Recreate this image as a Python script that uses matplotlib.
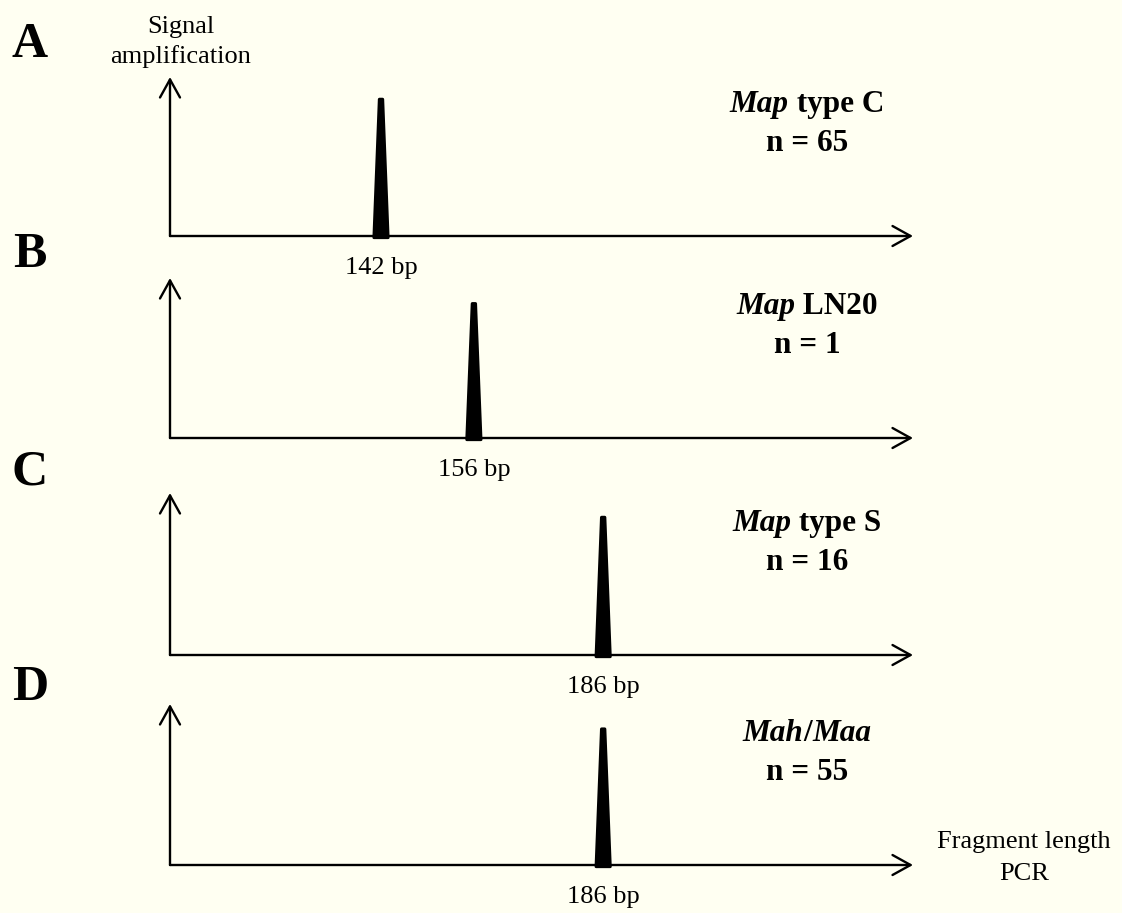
import numpy as np
import matplotlib.pyplot as plt

# panel data
panel_letters = ["A", "B", "C", "D"]
fragment_labels = ["142 bp", "156 bp", "186 bp", "186 bp"]
# peak position along the (schematic) fragment axis, 0..100
peak_pos = [28.4, 40.9, 58.3, 58.3]
# relative signal height of each peak
peak_height = [0.86, 0.84, 0.85, 0.845]
# group names, split into (text, italic) pieces
group_names = [
    [("Map", True), (" type C", False)],
    [("Map", True), (" LN20", False)],
    [("Map", True), (" type S", False)],
    [("Mah", True), ("/", False), ("Maa", True)],
]
group_counts = [65, 1, 16, 55]

W, H = 1122, 913
bg = "#FFFFF2"
serif = "Liberation Serif"

fig = plt.figure(figsize=(W / 100, H / 100), dpi=100, facecolor=bg)

# pixel layout of each panel: x-axis y, arrow tip y, letter baseline
axis_y = [236, 438, 655, 865]
tip_y = [77, 278, 493, 704]
letter_base = [57, 267, 484, 700]
x0, x1 = 170, 913


def ftext(x, y, s, **kw):
    # place text in pixel coords (y from top)
    return fig.text(x / W, 1 - y / H, s, family=serif, **kw)


renderer = fig.canvas.get_renderer()

for i in range(4):
    ax = fig.add_axes([x0 / W, (H - axis_y[i]) / H,
                       (x1 - x0) / W, (axis_y[i] - tip_y[i]) / H])
    ax.set_xlim(0, 100)
    ax.set_ylim(0, 1)
    ax.axis("off")
    ax.patch.set_alpha(0)

    arrow = dict(arrowstyle="->,head_length=0.65,head_width=0.36",
                 mutation_scale=20, lw=1.7, color="black",
                 shrinkA=0, shrinkB=0)
    ax.annotate("", xy=(1, 0), xytext=(0, 0), xycoords="axes fraction",
                arrowprops=arrow, annotation_clip=False)
    ax.annotate("", xy=(0, 1), xytext=(0, 0), xycoords="axes fraction",
                arrowprops=arrow, annotation_clip=False)

    # peak
    p, h = peak_pos[i], peak_height[i]
    xs = [p - 0.95, p + 0.95, p + 0.22, p - 0.22]
    ys = [-0.01, -0.01, h, h]
    ax.fill(xs, ys, color="black", lw=2.2, joinstyle="round", clip_on=False)

    ph = axis_y[i] - tip_y[i]
    ax.text(p, -38 / ph, fragment_labels[i], ha="center", va="baseline",
            fontsize=19, family=serif)

    # group name, centred from several styled pieces
    yname = -(112 - 236) / ph
    ycount = -(151 - 236) / ph
    xc = (807 - x0) / (x1 - x0)
    pieces = []
    for txt, it in group_names[i]:
        t = ax.text(0, yname, txt, transform=ax.transAxes, fontsize=22.5,
                    family=serif, weight="bold",
                    style="italic" if it else "normal", va="baseline", ha="left")
        pieces.append(t)
    widths = [t.get_window_extent(renderer).width for t in pieces]
    axw = ax.get_window_extent(renderer).width
    start = xc - sum(widths) / 2 / axw
    for t, w in zip(pieces, widths):
        t.set_x(start)
        start += w / axw
    ax.text(xc, ycount, "n = %d" % group_counts[i], transform=ax.transAxes,
            fontsize=22.5, family=serif, weight="bold", ha="center", va="baseline")

    ftext(30, letter_base[i], panel_letters[i], fontsize=36, weight="bold",
          ha="center", va="baseline")

ftext(181, 33, "Signal", fontsize=19, ha="center", va="baseline")
ftext(181, 63, "amplification", fontsize=19, ha="center", va="baseline")
ftext(1024, 848, "Fragment length", fontsize=19, ha="center", va="baseline")
ftext(1024, 880, "PCR", fontsize=19, ha="center", va="baseline")

fig.savefig("out.png", dpi=100, facecolor=bg)
